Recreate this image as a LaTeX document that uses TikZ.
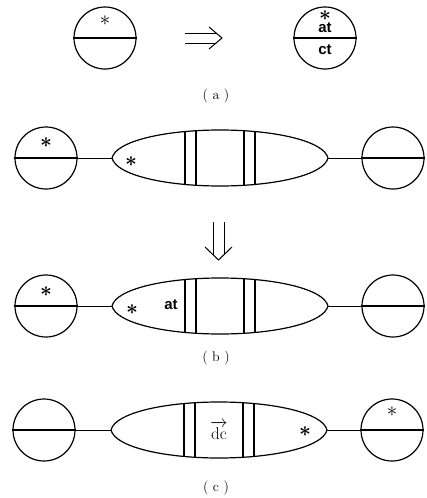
\documentclass[tikz,border=0pt]{standalone}
\usepackage{fontspec}
\setsansfont{Liberation Sans}
\usepackage{amsmath}
\usetikzlibrary{positioning}

\begin{document}
\begin{tikzpicture}[x=1pt, y=-1pt,
  ball/.style={draw, circle, line width=1.2pt, minimum size=62pt, inner sep=0pt},
  bar/.style={line width=1.2pt},
  link/.style={line width=1pt},
  ast/.style={font=\fontsize{22}{22}\selectfont, inner sep=0pt},
  lbl/.style={font=\fontsize{15}{15}\selectfont\sffamily\bfseries, inner sep=0pt},
  tag/.style={font=\fontsize{14}{14}\selectfont, inner sep=0pt},
  lens/.pic={
    \draw[bar] (-108,0) .. controls (-104,-17) and (-55,-28) .. (0,-28)
      .. controls (55,-28) and (104,-17) .. (108,0)
      .. controls (104,17) and (55,28) .. (0,28)
      .. controls (-55,28) and (-104,17) .. cycle;
    \draw[bar] (-35,-26.3) -- (-35,26.3) (35,-26.3) -- (35,26.3);
    \draw[bar] (-24,-27.2) -- (-24,27.2) (24,-27.2) -- (24,27.2);
    \coordinate (-w) at (-108,0);
    \coordinate (-e) at (108,0);
  }
]
  \useasboundingbox (0,0) rectangle (426,498);

  % (a)
  \node[ball] (srcA) at (105,38) {};
  \draw[bar] (srcA.west) -- (srcA.east);
  \node[ast] (srcAst) at (105,21) {$\ast$};

  \draw[link] (185,33) -- (216,33) (185,43) -- (216,43);
  \draw[link] (209,27) -- (222,38) -- (209,49);

  \node[ball] (dstA) at (325,38) {};
  \draw[bar] (dstA.west) -- (dstA.east);
  \node[ast] (dstAst) at (325,16) {$\boldsymbol{\ast}$};
  \node[lbl] (dstAt) at (325,28) {at};
  \node[lbl] (dstCt) at (325,50) {ct};

  \node[tag] (capA) at (216,96) {( a )};

  % (b) before
  \node[ball] (leftB) at (46,158) {};
  \draw[bar] (leftB.west) -- (leftB.east);
  \node[ast] (leftBst) at (46,143) {$\boldsymbol{\ast}$};
  \pic (midB) at (220,158) {lens};
  \node[ast] (midBst) at (131,162) {$\boldsymbol{\ast}$};
  \node[ball] (rightB) at (393,158) {};
  \draw[bar] (rightB.west) -- (rightB.east);
  \draw[link] (leftB.east) -- (midB-w);
  \draw[link] (midB-e) -- (rightB.west);

  \draw[link] (213,222) -- (213,254.5) (224,222) -- (224,254.5);
  \draw[link] (205,247) -- (218.5,260) -- (232,247);

  % (b) after
  \node[ball] (leftBB) at (46,306) {};
  \draw[bar] (leftBB.west) -- (leftBB.east);
  \node[ast] (leftBBst) at (46,292) {$\boldsymbol{\ast}$};
  \pic (midBB) at (220,306) {lens};
  \node[ast] (midBBst) at (132,310) {$\boldsymbol{\ast}$};
  \node[lbl] (midBBat) at (171,305) {at};
  \node[ball] (rightBB) at (393,306) {};
  \draw[bar] (rightBB.west) -- (rightBB.east);
  \draw[link] (leftBB.east) -- (midBB-w);
  \draw[link] (midBB-e) -- (rightBB.west);

  \node[tag] (capB) at (216,358) {( b )};

  % (c)
  \node[ball] (leftC) at (44,430) {};
  \draw[bar] (leftC.west) -- (leftC.east);
  \pic (midC) at (219,430) {lens};
  \node[font=\fontsize{17}{17}\selectfont, inner sep=0pt] (midCdc) at (219,430) {$\overrightarrow{\mathrm{dc}}$};
  \node[ast] (midCst) at (305,432) {$\boldsymbol{\ast}$};
  \node[ball] (rightC) at (392,430) {};
  \draw[bar] (rightC.west) -- (rightC.east);
  \node[ast] (rightCst) at (392,412) {$\ast$};
  \draw[link] (leftC.east) -- (midC-w);
  \draw[link] (midC-e) -- (rightC.west);

  \node[tag] (capC) at (216,488) {( c )};
\end{tikzpicture}
\end{document}
